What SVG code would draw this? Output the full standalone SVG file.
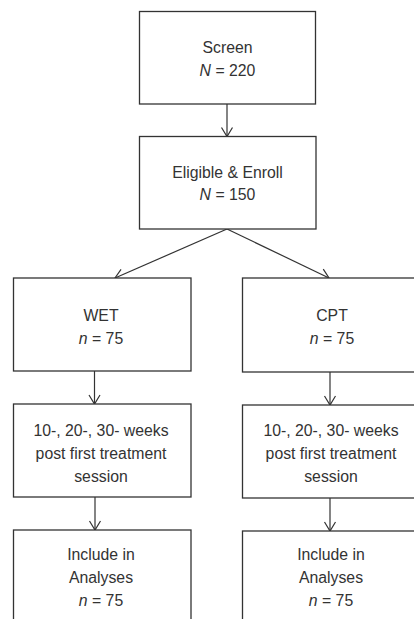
<svg xmlns="http://www.w3.org/2000/svg" width="414" height="619" viewBox="0 0 414 619">
<style>
.box{fill:#fff;stroke:#333;stroke-width:1.3}
.t{font-family:"Liberation Sans",Arial,sans-serif;font-size:15.8px;fill:#333;text-anchor:middle}
.i{font-style:italic}
.c{stroke:#333;stroke-width:1.2;fill:none;marker-end:url(#ah)}
</style>
<defs>
<marker id="ah" markerWidth="14" markerHeight="14" refX="10" refY="7" markerUnits="userSpaceOnUse" orient="auto" viewBox="0 0 14 14">
<path d="M1,1.5 L10,7 L1,12.5" stroke="#333" stroke-width="1.2" fill="none"/>
</marker>
</defs>
<rect width="414" height="619" fill="#fff"/>
<g id="connectors">
<line class="c" x1="227" y1="104" x2="227" y2="136.5"/>
<line class="c" x1="227" y1="229" x2="115" y2="278"/>
<line class="c" x1="227" y1="229" x2="329" y2="278"/>
<line class="c" x1="94.5" y1="371" x2="94.5" y2="404"/>
<line class="c" x1="330" y1="372" x2="330" y2="405"/>
<line class="c" x1="95" y1="497" x2="95" y2="530"/>
<line class="c" x1="330" y1="498" x2="330" y2="531"/>
</g>
<g id="screen">
<rect class="box" x="139.5" y="11.5" width="176" height="92.5"/>
<text class="t" x="227.5" y="52.5">Screen</text>
<text class="t" x="227.5" y="76"><tspan class="i">N</tspan> = 220</text>
</g>
<g id="enroll">
<rect class="box" x="139.5" y="136.5" width="176.5" height="92.5"/>
<text class="t" x="227.5" y="177.5">Eligible &amp; Enroll</text>
<text class="t" x="227.5" y="200"><tspan class="i">N</tspan> = 150</text>
</g>
<g id="wet">
<rect class="box" x="13.5" y="278" width="177.5" height="93"/>
<text class="t" x="101" y="320.5">WET</text>
<text class="t" x="101" y="343.5"><tspan class="i">n</tspan> = 75</text>
</g>
<g id="cpt">
<rect class="box" x="242.5" y="278" width="182" height="94"/>
<text class="t" x="332" y="320.5">CPT</text>
<text class="t" x="332" y="343.5"><tspan class="i">n</tspan> = 75</text>
</g>
<g id="wet-followup">
<rect class="box" x="13.5" y="404" width="177.5" height="93"/>
<text class="t" x="101" y="436">10-, 20-, 30- weeks</text>
<text class="t" x="101" y="459">post first treatment</text>
<text class="t" x="101" y="482">session</text>
</g>
<g id="cpt-followup">
<rect class="box" x="242.5" y="405" width="182" height="93"/>
<text class="t" x="331" y="436">10-, 20-, 30- weeks</text>
<text class="t" x="331" y="459">post first treatment</text>
<text class="t" x="331" y="482">session</text>
</g>
<g id="wet-analyses">
<rect class="box" x="13.5" y="530" width="177.5" height="100"/>
<text class="t" x="101" y="560">Include in</text>
<text class="t" x="101" y="583">Analyses</text>
<text class="t" x="101" y="606"><tspan class="i">n</tspan> = 75</text>
</g>
<g id="cpt-analyses">
<rect class="box" x="242.5" y="531" width="182" height="100"/>
<text class="t" x="331" y="560">Include in</text>
<text class="t" x="331" y="583">Analyses</text>
<text class="t" x="331" y="606"><tspan class="i">n</tspan> = 75</text>
</g>
</svg>
